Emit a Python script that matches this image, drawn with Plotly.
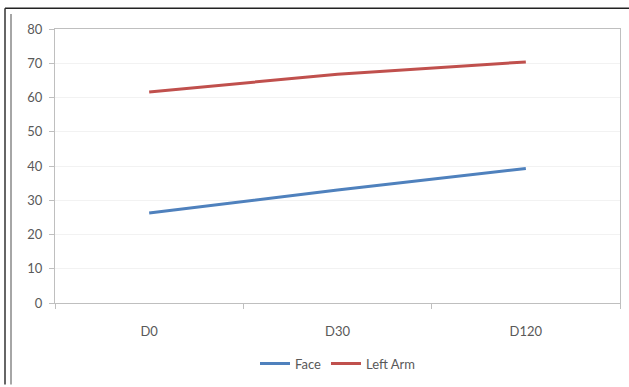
import plotly.graph_objects as go

categories = ["D0", "D30", "D120"]
face = [26.3, 33.0, 39.3]
left_arm = [61.6, 66.8, 70.4]

L, R, T, B = 55, 9, 29, 82
W, H = 629, 387
pw, ph = W - L - R, H - T - B

def px(x):
    return (x - L) / pw

def py(y):
    return (H - B - y) / ph

fig = go.Figure()
fig.add_trace(go.Scatter(x=categories, y=face, mode="lines", name="Face",
                         line=dict(color="#4F81BD", width=3)))
fig.add_trace(go.Scatter(x=categories, y=left_arm, mode="lines", name="Left Arm",
                         line=dict(color="#C0504D", width=3)))

font = dict(family="Lato, Open Sans, sans-serif", size=13, color="#595959")

fig.update_layout(
    width=W, height=H,
    margin=dict(l=L, r=R, t=T, b=B),
    paper_bgcolor="white", plot_bgcolor="white",
    font=font,
    showlegend=True,
    legend=dict(orientation="h", x=0.5, xanchor="center", y=py(366), yanchor="middle",
                font=font, itemwidth=30, tracegroupgap=0),
    xaxis=dict(type="category", range=[-0.5, 2.5], tickson="boundaries",
               ticks="outside", ticklen=5, tickcolor="#BFBFBF",
               showline=True, linecolor="#BFBFBF", linewidth=1,
               showgrid=False, mirror=True, tickfont=font, ticklabelstandoff=16),
    yaxis=dict(range=[0, 80], dtick=10, ticks="outside", ticklen=5, tickcolor="#BFBFBF",
               showline=True, linecolor="#BFBFBF", linewidth=1, mirror=True,
               showgrid=True, gridcolor="#F2F2F2", zeroline=False, tickfont=font,
               ticklabelstandoff=4),
)

# outer frame lines of the original image
fig.add_shape(type="line", xref="paper", yref="paper", x0=px(5), x1=px(629), y0=py(8), y1=py(8),
              line=dict(color="#222222", width=1.5))
fig.add_shape(type="line", xref="paper", yref="paper", x0=px(5), x1=px(5), y0=py(8), y1=py(387),
              line=dict(color="#333333", width=1.5))
fig.add_shape(type="line", xref="paper", yref="paper", x0=px(11), x1=px(11), y0=py(14), y1=py(387),
              line=dict(color="#888888", width=1.5))

fig.write_html("out.html")
